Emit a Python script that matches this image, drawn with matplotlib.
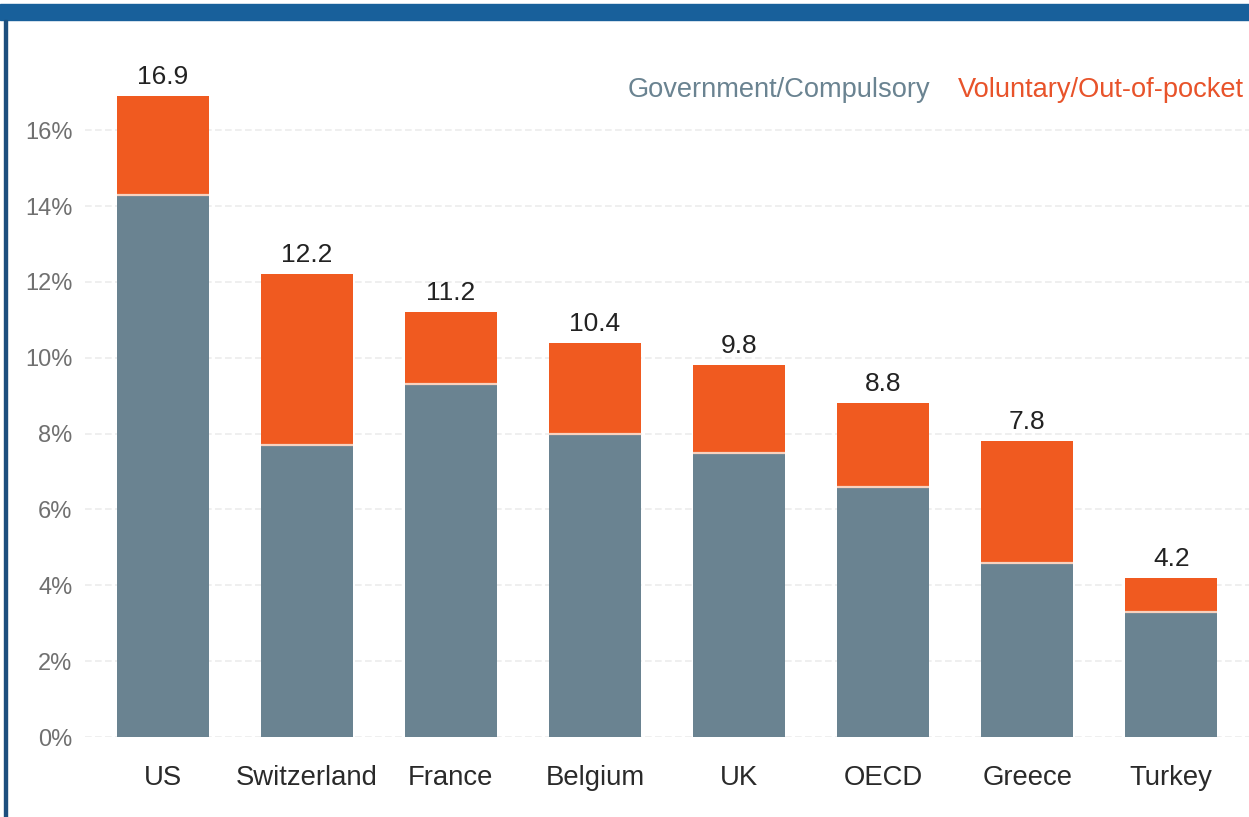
import matplotlib
matplotlib.use("Agg")
import matplotlib.pyplot as plt
from matplotlib.patches import Rectangle

categories = ["US", "Switzerland", "France", "Belgium", "UK", "OECD", "Greece", "Turkey"]
government = [14.3, 7.7, 9.3, 8.0, 7.5, 6.6, 4.6, 3.3]
totals = [16.9, 12.2, 11.2, 10.4, 9.8, 8.8, 7.8, 4.2]
voluntary = [t - g for t, g in zip(totals, government)]
yticks = [0, 2, 4, 6, 8, 10, 12, 14, 16]

GRAY = "#6a8391"
ORANGE = "#f05a20"
plt.rcParams["font.family"] = ["Liberation Sans", "DejaVu Sans"]

W, H = 1249, 817
fig = plt.figure(figsize=(W / 100, H / 100), dpi=100)
fig.patch.set_facecolor("white")

ax = fig.add_axes([85 / W, (H - 737) / H, (W - 85) / W, (737 - 60) / H])
x = list(range(len(categories)))
bw = 0.64
ax.bar(x, government, width=bw, color=GRAY, zorder=2)
ax.bar(x, voluntary, width=bw, bottom=government, color=ORANGE, zorder=2)
ax.hlines(government, [i - bw / 2 for i in x], [i + bw / 2 for i in x],
          colors="#f7d2bf", linewidth=1.6, zorder=3)

for i, t in zip(x, totals):
    ax.annotate(f"{t:.1f}", (i, t), xytext=(0, 5), textcoords="offset points",
                ha="center", va="bottom", fontsize=19, color="#222222")

ax.set_xlim(-0.54, 7.54)
ax.set_ylim(0, 17.85)
ax.set_yticks(yticks)
ax.set_yticklabels([f"{v}%" for v in yticks], fontsize=17, color="#707070")
ax.set_xticks(x)
ax.set_xticklabels(categories, fontsize=19.8, color="#2a2a2a")
ax.tick_params(axis="both", length=0)
ax.tick_params(axis="y", pad=9)
ax.tick_params(axis="x", pad=20)
ax.grid(axis="y", color="#ececec", linestyle=(0, (4, 2)), linewidth=1.2, zorder=0)
for s in ax.spines.values():
    s.set_visible(False)

fig.text(930 / W, 1 - 90 / H, "Government/Compulsory", ha="right", va="center",
         fontsize=19.6, color="#6a8391")
fig.text(1244 / W, 1 - 90 / H, "Voluntary/Out-of-pocket", ha="right", va="center",
         fontsize=19.6, color="#e8532a")

fig.patches.append(Rectangle((0, 1 - 20 / H), 1, 16 / H, transform=fig.transFigure,
                             color="#18609b", zorder=5))
fig.patches.append(Rectangle((4 / W, 0), 2.5 / W, 1 - 20 / H, transform=fig.transFigure,
                             color="#1d4f7e", zorder=5))

fig.savefig("out.png", dpi=100, facecolor="white")
